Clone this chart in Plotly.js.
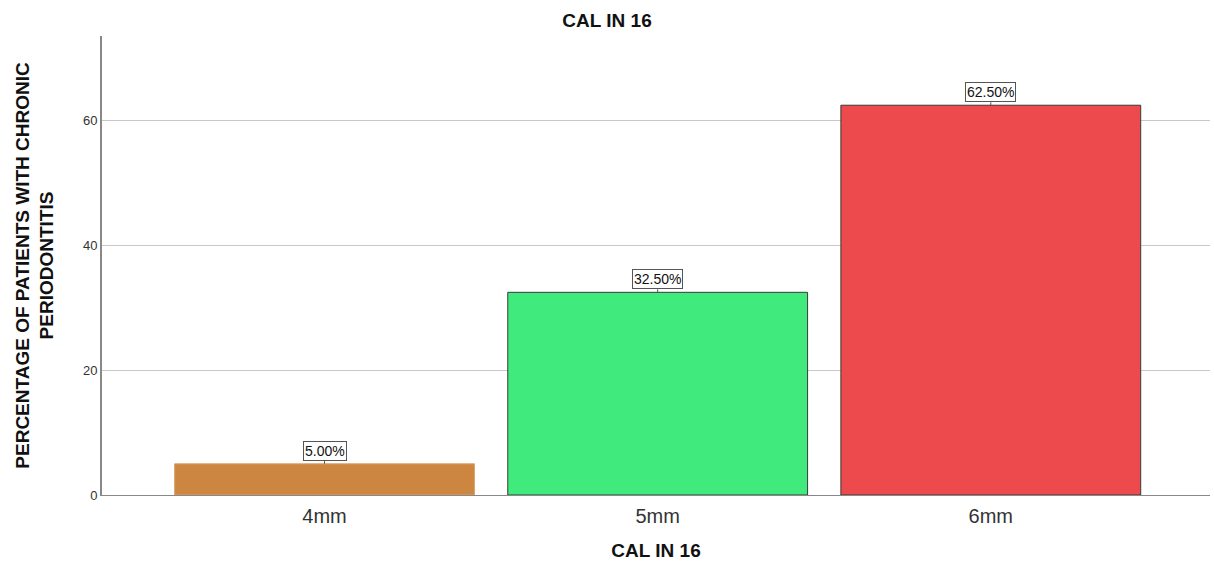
<!DOCTYPE html>
<html>
<head>
<meta charset="utf-8">
<script src="https://cdn.plot.ly/plotly-3.0.1.min.js"></script>
<style>html,body{margin:0;padding:0;background:#fff;}#chart{width:1214px;height:561px;}</style>
</head>
<body>
<div id="chart"></div>
<script>
const categories = ['4mm', '5mm', '6mm'];
const percentages = [5.00, 32.50, 62.50];
const barColors = ['#CC8640', '#41EA7C', '#EC4A4C'];
const barLines = ['#D9A36B', '#3A3A3A', '#3A3A3A'];
const yTicks = [0, 20, 40, 60];

const FONT = 'Liberation Sans, Arial, sans-serif';

const trace = {
  type: 'bar',
  x: categories,
  y: percentages,
  width: 0.9,
  marker: {color: barColors, line: {color: barLines, width: 1}},
  hoverinfo: 'none'
};

const annotations = categories.map((c, i) => ({
  x: c, y: percentages[i], xref: 'x', yref: 'y',
  text: percentages[i].toFixed(2) + '%',
  showarrow: true, arrowhead: 0, arrowwidth: 1, arrowcolor: '#555',
  ax: 0, ay: -3, yanchor: 'bottom',
  bgcolor: '#ffffff', bordercolor: '#555', borderwidth: 1, borderpad: 1,
  font: {family: FONT, size: 14, color: '#111'}
}));

const layout = {
  width: 1214, height: 561,
  margin: {l: 102, r: 4, t: 36, b: 66},
  paper_bgcolor: '#fff', plot_bgcolor: '#fff',
  showlegend: false,
  title: {text: '<b>CAL IN 16</b>', x: 0.5, xref: 'container', xanchor: 'center', y: 0.963, yanchor: 'middle',
    font: {family: FONT, size: 19, color: '#111'}},
  xaxis: {
    type: 'category', range: [-0.668, 2.658],
    showline: true, linecolor: '#888', linewidth: 1, mirror: false,
    showgrid: false, ticks: '', zeroline: false,
    tickfont: {family: FONT, size: 20, color: '#333'},
    ticklabelstandoff: 3,
    title: {text: '<b>CAL IN 16</b>', standoff: 18,
      font: {family: FONT, size: 19, color: '#111'}}
  },
  yaxis: {
    range: [0, 73.6], tickvals: yTicks, ticktext: yTicks.map(String),
    showline: true, linecolor: '#888', linewidth: 2,
    showgrid: true, gridcolor: '#c8c8c8', gridwidth: 1,
    zeroline: false, ticks: '',
    tickfont: {family: FONT, size: 13, color: '#333'},
    title: {text: '<b>PERCENTAGE OF PATIENTS WITH CHRONIC<br>PERIODONTITIS</b>', standoff: 24,
      font: {family: FONT, size: 19, color: '#111'}}
  },
  annotations: annotations,
  bargap: 0.1
};

Plotly.newPlot('chart', [trace], layout, {displayModeBar: false, staticPlot: true});
</script>
</body>
</html>
